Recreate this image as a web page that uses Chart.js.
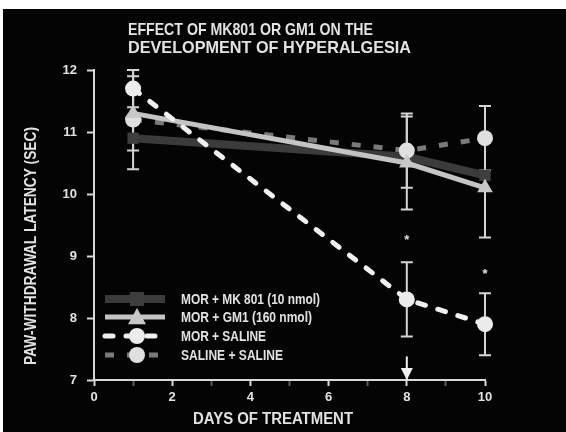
<!DOCTYPE html>
<html>
<head>
<meta charset="utf-8">
<script src="https://cdn.jsdelivr.net/npm/chart.js@4.4.0/dist/chart.umd.min.js"></script>
<style>
  html, body { margin: 0; padding: 0; background: #fff; }
  #wrap { position: relative; width: 566px; height: 432px; }
  canvas { display: block; }
</style>
</head>
<body>
<div id="wrap"><canvas id="chart" width="566" height="432"></canvas></div>
<script>
// data
const days = [1, 8, 10];
const mk801 = [10.9, 10.6, 10.3];
const gm1 = [11.3, 10.5, 10.1];
const gm1Err = [0.6, 0.75, 0.8];
const morSaline = [11.7, 8.3, 7.9];
const morSalineErr = [0.3, 0.6, 0.5];
const salineSaline = [11.2, 10.7, 10.9];
const salineSalineErr = [0.8, 0.6, 0.52];
const starDays = [8, 10];
const starValues = [9.3, 8.75];
const arrowDay = 8;
const arrowTop = 7.38;

const yTicks = [7, 8, 9, 10, 11, 12];
const xLabels = [0, 2, 4, 6, 8, 10];
const titleLines = ['EFFECT OF MK801 OR GM1 ON THE', 'DEVELOPMENT OF HYPERALGESIA'];
const FONT = '"Liberation Sans", Arial, Helvetica, sans-serif';
const TXT = '#e2e2e2';

const toPoints = vals => days.map((d, i) => ({ x: d, y: vals[i] }));

const series = [
    { label: 'MOR + MK 801 (10 nmol)', data: mk801, err: null, color: '#3b3b3b', width: 8, dash: [], cap: 'butt', point: 'rect', radius: 8, fill: '#3e3e3e', order: 3 },
    { label: 'MOR + GM1 (160 nmol)', data: gm1, err: gm1Err, color: '#c4c4c4', width: 5, dash: [], cap: 'butt', point: 'triangle', radius: 9, fill: '#c8c8c8', order: 1 },
    { label: 'MOR + SALINE', data: morSaline, err: morSalineErr, color: '#f0f0f0', width: 5, dash: [8, 13], cap: 'round', point: 'circle', radius: 8, fill: '#ececec', order: 0 },
    { label: 'SALINE + SALINE', data: salineSaline, err: salineSalineErr, color: '#7a7a7a', width: 5, dash: [9, 13], cap: 'butt', point: 'circle', radius: 8, fill: '#e0e0e0', order: 2 }
];

// black picture with the white scan margin on top/left
const backdrop = {
    id: 'backdrop',
    beforeDraw(chart) {
        const c = chart.ctx;
        c.save();
        c.fillStyle = '#ffffff';
        c.fillRect(0, 0, chart.width, chart.height);
        c.fillStyle = '#040404';
        c.fillRect(3, 9, chart.width - 3, chart.height - 9);
        c.restore();
    }
};

const errorBars = {
    id: 'errorBars',
    beforeDatasetsDraw(chart) {
        const c = chart.ctx;
        const xs = chart.scales.x, ys = chart.scales.y;
        c.save();
        c.strokeStyle = '#d4d4d4';
        c.lineWidth = 2;
        series.forEach(s => {
            if (!s.err) return;
            days.forEach((d, i) => {
                const x = xs.getPixelForValue(d);
                const top = ys.getPixelForValue(s.data[i] + s.err[i]);
                const bot = ys.getPixelForValue(s.data[i] - s.err[i]);
                c.beginPath();
                c.moveTo(x, top); c.lineTo(x, bot);
                c.moveTo(x - 6, top); c.lineTo(x + 6, top);
                c.moveTo(x - 6, bot); c.lineTo(x + 6, bot);
                c.stroke();
            });
        });
        c.restore();
    }
};

function drawMarker(c, style, x, y, r, fill) {
    c.fillStyle = fill;
    c.beginPath();
    if (style === 'rect') {
        c.rect(x - r, y - r, 2 * r, 2 * r);
    } else if (style === 'triangle') {
        c.moveTo(x, y - r);
        c.lineTo(x + r, y + r * 0.8);
        c.lineTo(x - r, y + r * 0.8);
        c.closePath();
    } else {
        c.arc(x, y, r, 0, Math.PI * 2);
    }
    c.fill();
}

const decorations = {
    id: 'decorations',
    afterDraw(chart) {
        const c = chart.ctx;
        const xs = chart.scales.x, ys = chart.scales.y;
        const area = chart.chartArea;
        c.save();
        c.fillStyle = TXT;
        c.textBaseline = 'middle';

        // title, left aligned, condensed
        c.font = 'bold 17px ' + FONT;
        c.textAlign = 'left';
        c.fillText(titleLines[0], 128, 30, 245);
        c.fillText(titleLines[1], 128, 48, 283);

        // axis titles
        c.font = 'bold 16px ' + FONT;
        c.textAlign = 'center';
        c.fillText('DAYS OF TREATMENT', 273, 420, 160);
        c.save();
        c.translate(32, 246);
        c.rotate(-Math.PI / 2);
        c.fillText('PAW-WITHDRAWAL LATENCY (SEC)', 0, 0, 238);
        c.restore();

        // significance stars
        c.font = 'bold 13px ' + FONT;
        starDays.forEach((d, i) => {
            c.fillText('*', xs.getPixelForValue(d), ys.getPixelForValue(starValues[i]) + 3);
        });

        // treatment arrow
        const ax = xs.getPixelForValue(arrowDay);
        c.strokeStyle = '#f0f0f0';
        c.lineWidth = 2;
        c.beginPath();
        c.moveTo(ax, ys.getPixelForValue(arrowTop));
        c.lineTo(ax, area.bottom);
        c.stroke();
        c.fillStyle = '#f0f0f0';
        c.beginPath();
        c.moveTo(ax - 6, area.bottom - 12);
        c.lineTo(ax + 6, area.bottom - 12);
        c.lineTo(ax, area.bottom);
        c.closePath();
        c.fill();

        // legend
        const rowY = [299, 317, 336, 355];
        c.font = 'bold 14px ' + FONT;
        c.textAlign = 'left';
        series.forEach((s, i) => {
            const y = rowY[i];
            c.strokeStyle = s.color;
            c.lineWidth = s.width;
            c.lineCap = s.cap;
            c.setLineDash(s.dash);
            c.beginPath();
            c.moveTo(105, y);
            c.lineTo(165, y);
            c.stroke();
            c.setLineDash([]);
            drawMarker(c, s.point, 137, y, s.point === 'rect' ? 7 : s.radius, s.fill);
            c.fillStyle = TXT;
            c.fillText(s.label, 181, y + 1, [139, 131, 85, 102][i]);
        });
        c.restore();
    }
};

new Chart(document.getElementById('chart'), {
    type: 'line',
    data: {
        datasets: series.map(s => ({
            label: s.label,
            data: toPoints(s.data),
            borderColor: s.color,
            borderWidth: s.width,
            borderDash: s.dash,
            borderCapStyle: s.cap,
            pointStyle: s.point,
            pointRadius: s.radius,
            pointBackgroundColor: s.fill,
            pointBorderWidth: 0,
            tension: 0,
            clip: false,
            order: s.order
        }))
    },
    options: {
        responsive: false,
        animation: false,
        events: [],
        layout: { padding: { top: 70, right: 81, bottom: 0, left: 0 } },
        plugins: { legend: { display: false }, tooltip: { enabled: false } },
        scales: {
            x: {
                type: 'linear',
                min: 0,
                max: 10,
                afterFit(scale) { scale.height = 52; },
                afterBuildTicks(scale) { scale.ticks = [0,1,2,3,4,5,6,7,8,9,10].map(v => ({ value: v })); },
                ticks: {
                    color: TXT,
                    font: { family: FONT, size: 13, weight: 'bold' },
                    padding: 4,
                    maxRotation: 0,
                    autoSkip: false,
                    callback: v => xLabels.includes(v) ? String(v) : ''
                },
                grid: {
                    drawOnChartArea: false,
                    tickLength: 6,
                    tickWidth: 2,
                    tickColor: ctx => (ctx.tick && ctx.tick.value % 2) ? '#5a5a5a' : '#d8d8d8'
                },
                border: { color: '#d8d8d8', width: 2 }
            },
            y: {
                min: 7,
                max: 12,
                afterFit(scale) { scale.width = 94; },
                afterBuildTicks(scale) { scale.ticks = yTicks.map(v => ({ value: v })); },
                ticks: {
                    color: TXT,
                    font: { family: FONT, size: 13, weight: 'bold' },
                    padding: 10
                },
                grid: {
                    drawOnChartArea: false,
                    tickLength: 7,
                    tickWidth: 2,
                    tickColor: '#d8d8d8'
                },
                border: { color: '#d8d8d8', width: 2 }
            }
        }
    },
    plugins: [backdrop, errorBars, decorations]
});
</script>
</body>
</html>
